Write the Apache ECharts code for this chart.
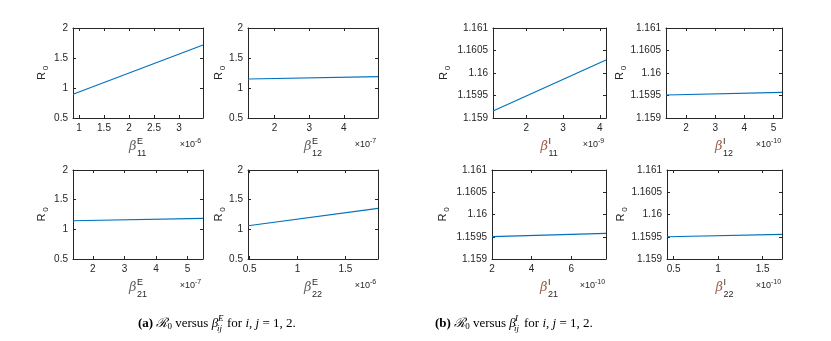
<!DOCTYPE html>
<html>
<head>
<meta charset="utf-8">
<script src="https://cdn.jsdelivr.net/npm/echarts@6/dist/echarts.min.js"></script>
<style>
  html, body { margin: 0; padding: 0; background: #fff; }
  #main { width: 831px; height: 341px; }
</style>
</head>
<body>
<div id="main"></div>
<script>
// x values are mantissas, the exponent is printed at the right end of each axis
// (a) R0 versus beta^E_ij
var beta11E = [0.88, 3.48],  r0_11E = [0.895, 1.717];
var beta12E = [1.23, 4.99],  r0_12E = [1.15, 1.188];
var beta21E = [1.37, 5.49],  r0_21E = [1.145, 1.185];
var beta22E = [0.482, 1.84], r0_22E = [1.06, 1.354];
// (b) R0 versus beta^I_ij
var beta11I = [1.09, 4.17],  r0_11I = [1.159156, 1.160289];
var beta12I = [1.31, 5.29],  r0_12I = [1.159511, 1.159571];
var beta21I = [2, 7.76],     r0_21I = [1.159501, 1.159578];
var beta22I = [0.426, 1.718], r0_22I = [1.1595, 1.159555];

// tick labels
var xTicks11E = [1, 1.5, 2, 2.5, 3];
var xTicks12E = [2, 3, 4];
var xTicks21E = [2, 3, 4, 5];
var xTicks22E = [0.5, 1, 1.5];
var xTicks11I = [2, 3, 4];
var xTicks12I = [2, 3, 4, 5];
var xTicks21I = [2, 4, 6];
var xTicks22I = [0.5, 1, 1.5];
var yTicksE = [0.5, 1, 1.5, 2];
var yTicksI = [1.159, 1.1595, 1.16, 1.1605, 1.161];

var panels = [
  {x: beta11E, y: r0_11E, xt: xTicks11E, yt: yTicksE, sub: '11', sup: 'E', exp: '-6'},
  {x: beta12E, y: r0_12E, xt: xTicks12E, yt: yTicksE, sub: '12', sup: 'E', exp: '-7'},
  {x: beta21E, y: r0_21E, xt: xTicks21E, yt: yTicksE, sub: '21', sup: 'E', exp: '-7'},
  {x: beta22E, y: r0_22E, xt: xTicks22E, yt: yTicksE, sub: '22', sup: 'E', exp: '-6'},
  {x: beta11I, y: r0_11I, xt: xTicks11I, yt: yTicksI, sub: '11', sup: 'I', exp: '-9'},
  {x: beta12I, y: r0_12I, xt: xTicks12I, yt: yTicksI, sub: '12', sup: 'I', exp: '-10'},
  {x: beta21I, y: r0_21I, xt: xTicks21I, yt: yTicksI, sub: '21', sup: 'I', exp: '-10'},
  {x: beta22I, y: r0_22I, xt: xTicks22I, yt: yTicksI, sub: '22', sup: 'I', exp: '-10'}
];

// plot boxes: left, top, width, height
var boxes = [
  [73, 28, 130, 90], [248, 28, 130, 90],
  [73, 170, 130, 89], [248, 170, 130, 89],
  [493, 28, 113, 90], [666, 28, 116, 90],
  [492, 170, 114, 89], [667, 170, 115, 89]
];
var nameOffset = [31, 29, 31, 29, 49, 46, 49, 46];

var axisColor = '#262626';
var tickFont = 'Liberation Sans';

function fmt(v) { return String(+(+v).toFixed(6)); }

var grids = [], xAxes = [], yAxes = [], series = [], graphics = [];

panels.forEach(function (p, i) {
  var b = boxes[i];
  grids.push({left: b[0], top: b[1], width: b[2], height: b[3]});

  ['bottom', 'top'].forEach(function (pos) {
    xAxes.push({
      type: 'value', gridIndex: i, position: pos, min: p.x[0], max: p.x[1],
      axisLine: {show: true, onZero: false, lineStyle: {color: axisColor, width: 1}},
      axisTick: {show: true, inside: true, length: 3, customValues: p.xt, lineStyle: {color: axisColor}},
      axisLabel: {show: pos === 'bottom', customValues: p.xt, margin: 5, fontSize: 10,
                  color: axisColor, fontFamily: tickFont, formatter: fmt},
      splitLine: {show: false}
    });
  });
  ['left', 'right'].forEach(function (pos) {
    yAxes.push({
      type: 'value', gridIndex: i, position: pos, min: p.yt[0], max: p.yt[p.yt.length - 1],
      axisLine: {show: true, onZero: false, lineStyle: {color: axisColor, width: 1}},
      axisTick: {show: true, inside: true, length: 3, customValues: p.yt, lineStyle: {color: axisColor}},
      axisLabel: {show: pos === 'left', customValues: p.yt, margin: 5, fontSize: 10,
                  color: axisColor, fontFamily: tickFont, formatter: fmt},
      splitLine: {show: false}
    });
  });

  series.push({
    type: 'line', xAxisIndex: 2 * i, yAxisIndex: 2 * i,
    data: [[p.x[0], p.y[0]], [p.x[1], p.y[1]]],
    symbol: 'none', silent: true,
    lineStyle: {color: '#0072BD', width: 1.2}
  });

  // axis names
  var cx = b[0] + b[2] / 2, bottom = b[1] + b[3], right = b[0] + b[2];
  var betaColor = p.sup === 'I' ? '#a0604a' : '#666';
  graphics.push(
    {type: 'text', x: cx - 9, y: bottom + 29,
     style: {text: 'β', font: 'italic 13px "DejaVu Serif"', fill: betaColor, align: 'left', verticalAlign: 'middle'}},
    {type: 'text', x: cx - 1, y: bottom + 24,
     style: {text: p.sup, font: '9px ' + tickFont, fill: axisColor, align: 'left', verticalAlign: 'middle'}},
    {type: 'text', x: cx - 1, y: bottom + 36,
     style: {text: p.sub, font: '9px ' + tickFont, fill: axisColor, align: 'left', verticalAlign: 'middle'}},
    {type: 'text', x: right - (p.exp.length > 2 ? 11 : 8), y: bottom + 27,
     style: {text: '×10', font: '9px ' + tickFont, fill: axisColor, align: 'right', verticalAlign: 'middle'}},
    {type: 'text', x: right - (p.exp.length > 2 ? 11 : 8), y: bottom + 23,
     style: {text: p.exp, font: '7px ' + tickFont, fill: axisColor, align: 'left', verticalAlign: 'middle'}}
  );
  var ny = b[1] + b[3] / 2, nx = b[0] - nameOffset[i];
  graphics.push(
    {type: 'text', x: nx, y: ny + 3, rotation: Math.PI / 2,
     style: {text: 'R', font: '11px ' + tickFont, fill: axisColor, align: 'center', verticalAlign: 'middle'}},
    {type: 'text', x: nx + 4, y: ny - 5, rotation: Math.PI / 2,
     style: {text: '0', font: '8px ' + tickFont, fill: axisColor, align: 'center', verticalAlign: 'middle'}}
  );
});

// sub-figure captions
var captions = [
  {letter: '(a)', sup: 'E', left: 138},
  {letter: '(b)', sup: 'I', left: 435}
];
var capFont = '"Liberation Serif"';
captions.forEach(function (c) {
  var y = 324;
  graphics.push(
    {type: 'text', x: c.left, y: y,
     style: {
       text: '{b|' + c.letter + '} {r|ℛ}{s|0} versus {i|β}',
       align: 'left', verticalAlign: 'middle', fill: '#000',
       font: '13px ' + capFont,
       rich: {
         b: {fontWeight: 'bold', fontSize: 13, fontFamily: capFont},
         r: {fontSize: 13, fontFamily: 'DejaVu Serif', fontStyle: 'italic'},
         s: {fontSize: 9, fontFamily: capFont, padding: [6, 0, 0, 0]},
         i: {fontSize: 13, fontFamily: capFont, fontStyle: 'italic'}
       }
     }},
    {type: 'text', x: c.left + 80, y: y - 5,
     style: {text: c.sup, font: 'italic 9px ' + capFont, fill: '#000', align: 'left', verticalAlign: 'middle'}},
    {type: 'text', x: c.left + 79, y: y + 5,
     style: {text: 'ij', font: 'italic 9px ' + capFont, fill: '#000', align: 'left', verticalAlign: 'middle'}},
    {type: 'text', x: c.left + 89, y: y,
     style: {
       text: 'for {i|i}, {i|j} = 1, 2.',
       align: 'left', verticalAlign: 'middle', fill: '#000', font: '13px ' + capFont,
       rich: {i: {fontSize: 13, fontFamily: capFont, fontStyle: 'italic'}}
     }}
  );
});

var chart = echarts.init(document.getElementById('main'), null, {renderer: 'canvas'});
chart.setOption({
  animation: false,
  backgroundColor: '#fff',
  grid: grids,
  xAxis: xAxes,
  yAxis: yAxes,
  series: series,
  graphic: graphics
});
</script>
</body>
</html>
